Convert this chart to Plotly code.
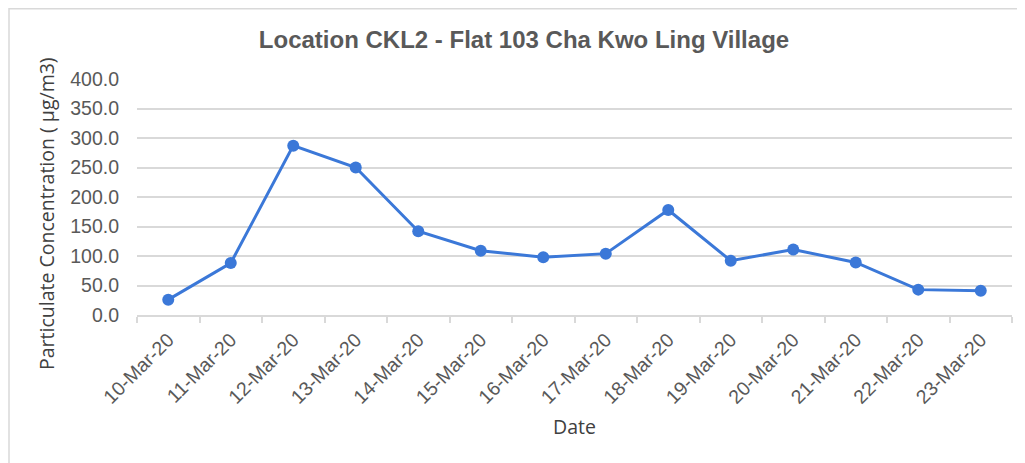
import plotly.graph_objects as go

dates = ["10-Mar-20", "11-Mar-20", "12-Mar-20", "13-Mar-20", "14-Mar-20", "15-Mar-20",
         "16-Mar-20", "17-Mar-20", "18-Mar-20", "19-Mar-20", "20-Mar-20", "21-Mar-20",
         "22-Mar-20", "23-Mar-20"]
concentration = [26, 88, 287, 250, 142, 109, 98, 104, 178, 92, 111, 89, 43, 41]
y_ticks = [0, 50, 100, 150, 200, 250, 300, 350, 400]

# page has an 8px body margin; figure is sized to fill the rest of the window
W, H = 1017, 455
L, R, T, B = 129, 13, 71, 148
pw, ph = W - L - R, H - T - B

fig = go.Figure()
fig.add_trace(go.Scatter(
    x=dates, y=concentration, mode="lines+markers",
    line=dict(color="#3b78d8", width=3),
    marker=dict(color="#3b78d8", size=12),
    showlegend=False, hoverinfo="x+y",
))

tick_font = dict(family="Liberation Sans, Arial, sans-serif", size=19.5, color="#595959")
title_font = dict(family="Open Sans, sans-serif", size=19.5, color="#404040")

fig.update_layout(
    width=W, height=H,
    margin=dict(l=L, r=R, t=T, b=B, autoexpand=False),
    paper_bgcolor="white", plot_bgcolor="white",
    title=dict(text="<b>Location CKL2 - Flat 103 Cha Kwo Ling Village</b>",
               font=dict(family="Liberation Sans, Arial, sans-serif", size=24, color="#595959"),
               x=516 / W, xref="container", xanchor="center",
               y=1 - 32 / H, yref="container", yanchor="middle"),
    xaxis=dict(
        type="category", range=[-0.5, len(dates) - 0.5],
        tickson="boundaries", ticks="outside", ticklen=6, tickcolor="#d9d9d9", tickwidth=1.5,
        showline=True, linecolor="#d9d9d9", linewidth=1.5,
        showgrid=False, tickangle=-45, tickfont=tick_font,
        ticklabelstandoff=4,
        title=dict(text="Date", font=title_font, standoff=14),
        automargin=False,
    ),
    yaxis=dict(
        range=[0, 400], tickvals=y_ticks, tickformat=".1f",
        showgrid=True, gridcolor="#d9d9d9", gridwidth=1.5,
        zeroline=False, showline=False, ticks="", tickfont=tick_font,
        ticklabelstandoff=17,
        automargin=False,
    ),
    annotations=[dict(
        text="Particulate Concentration ( µg/m3)", font=title_font,
        textangle=-90, showarrow=False,
        xref="paper", yref="paper",
        x=(38 - L) / pw, y=1 - (206 - T) / ph,
        xanchor="center", yanchor="middle",
    )],
    shapes=[dict(
        type="rect", xref="paper", yref="paper",
        x0=(1 - L) / pw, x1=(W + 20 - L) / pw,
        y0=-(H + 20 - T - ph) / ph, y1=1 + (T - 0.75) / ph,
        line=dict(color="#d9d9d9", width=1.5), fillcolor="rgba(0,0,0,0)", layer="below",
    )],
)

fig.write_html("out.html")
